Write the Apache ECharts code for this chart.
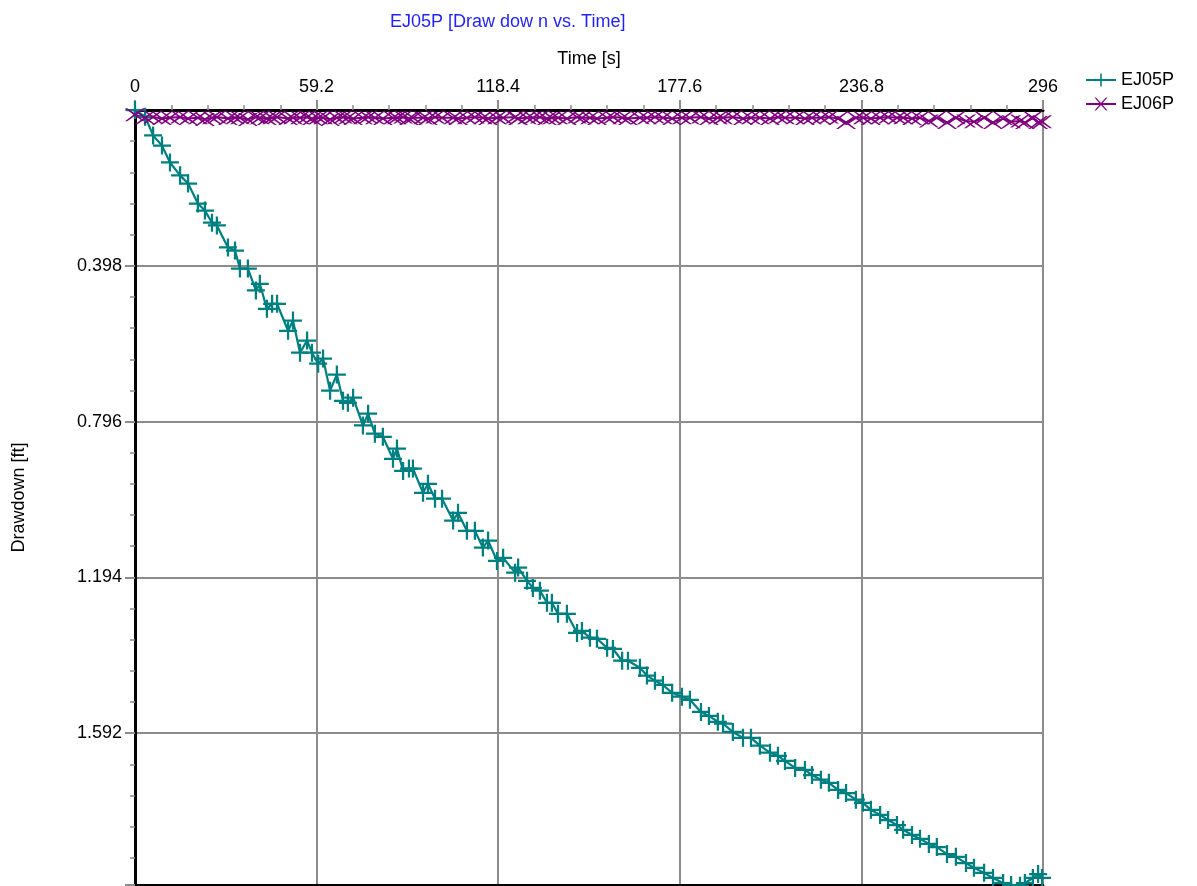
<!DOCTYPE html>
<html>
<head>
<meta charset="utf-8">
<script src="https://cdn.jsdelivr.net/npm/echarts@6/dist/echarts.min.js"></script>
<style>
html,body{margin:0;padding:0;background:#fff;}
#chart{width:1197px;height:886px;}
</style>
</head>
<body>
<div id="chart"></div>
<script>
// Time [s]
const timeS = [
  0, 3.3, 5.9, 8.8, 11.4, 14.7, 17.3, 20.5, 22.8, 25.1,
  26.7, 30.3, 32.6, 34.2, 36.8, 39.4, 40.7, 43.0, 44.7, 46.3,
  49.9, 51.5, 53.8, 56.1, 57.7, 59.7, 61.3, 63.6, 65.8, 67.8,
  69.4, 71.1, 74.3, 76.0, 78.2, 80.8, 84.1, 85.4, 87.4, 89.3,
  90.6, 93.9, 95.5, 97.8, 100.1, 103.7, 105.3, 108.2, 110.8, 113.4,
  115.1, 118.0, 120.0, 123.9, 124.9, 127.8, 129.7, 132.0, 134.3, 135.9,
  137.9, 140.8, 144.1, 145.7, 148.3, 150.6, 153.9, 155.8, 158.8, 160.7,
  164.6, 166.9, 169.5, 172.1, 175.1, 178.3, 180.9, 184.5, 187.1, 190.0,
  191.7, 194.9, 198.2, 200.8, 203.7, 207.0, 209.6, 211.9, 215.2, 218.4,
  220.7, 223.6, 226.2, 229.2, 231.8, 235.0, 237.3, 239.9, 242.9, 245.5,
  248.4, 250.4, 253.3, 255.9, 258.8, 261.4, 264.7, 267.6, 270.9, 273.5,
  276.8, 279.7, 283.0, 285.6, 288.5, 290.1, 292.7, 294.4, 295.7
];
// Drawdown [ft] EJ05P
const ej05p = [
  0.000, 0.017, 0.065, 0.091, 0.134, 0.167, 0.188, 0.239, 0.257, 0.288,
  0.295, 0.351, 0.359, 0.405, 0.405, 0.461, 0.444, 0.508, 0.495, 0.495,
  0.564, 0.538, 0.620, 0.589, 0.620, 0.648, 0.635, 0.717, 0.676, 0.743,
  0.748, 0.735, 0.806, 0.776, 0.827, 0.835, 0.891, 0.865, 0.922, 0.916,
  0.916, 0.978, 0.955, 0.993, 0.993, 1.049, 1.029, 1.075, 1.075, 1.118,
  1.100, 1.152, 1.144, 1.182, 1.169, 1.203, 1.221, 1.228, 1.259, 1.259,
  1.287, 1.287, 1.336, 1.331, 1.348, 1.351, 1.374, 1.377, 1.407, 1.407,
  1.425, 1.445, 1.458, 1.469, 1.489, 1.499, 1.507, 1.538, 1.548, 1.563,
  1.568, 1.589, 1.604, 1.604, 1.624, 1.642, 1.650, 1.663, 1.681, 1.686,
  1.699, 1.711, 1.719, 1.737, 1.745, 1.762, 1.770, 1.788, 1.801, 1.814,
  1.827, 1.839, 1.852, 1.862, 1.875, 1.883, 1.901, 1.908, 1.924, 1.936,
  1.949, 1.962, 1.975, 1.980, 1.982, 1.975, 1.962, 1.952, 1.962
];
// Drawdown [ft] EJ06P
const ej06p = [
  0.012, 0.020, 0.018, 0.022, 0.020, 0.018, 0.022, 0.020, 0.024, 0.020,
  0.018, 0.022, 0.020, 0.020, 0.024, 0.018, 0.020, 0.022, 0.020, 0.018,
  0.022, 0.020, 0.020, 0.018, 0.022, 0.020, 0.020, 0.024, 0.020, 0.018,
  0.020, 0.022, 0.020, 0.018, 0.020, 0.022, 0.020, 0.020, 0.018, 0.022,
  0.020, 0.020, 0.022, 0.018, 0.020, 0.020, 0.022, 0.020, 0.018, 0.020,
  0.022, 0.020, 0.020, 0.018, 0.022, 0.020, 0.020, 0.018, 0.022, 0.020,
  0.020, 0.022, 0.018, 0.020, 0.020, 0.022, 0.020, 0.018, 0.020, 0.022,
  0.020, 0.020, 0.018, 0.020, 0.022, 0.020, 0.020, 0.018, 0.022, 0.020,
  0.020, 0.018, 0.022, 0.020, 0.020, 0.022, 0.018, 0.020, 0.020, 0.022,
  0.020, 0.020, 0.018, 0.022, 0.032, 0.020, 0.020, 0.022, 0.020, 0.018,
  0.020, 0.020, 0.022, 0.020, 0.028, 0.020, 0.032, 0.020, 0.028, 0.030,
  0.020, 0.032, 0.022, 0.030, 0.028, 0.032, 0.020, 0.032, 0.030
];
const seriesNames = ['EJ05P', 'EJ06P'];
const titleText = 'EJ05P [Draw dow n vs. Time]';
const xName = 'Time [s]';
const yName = 'Drawdown [ft]';

const FONT = '"Liberation Sans", Arial, sans-serif';
const FS = 18;
const GRID_GRAY = '#8c8c8c';
const Y_MAX = 1.98;
const plusPath = 'path://M-1,-8 H1 V-1 H8 V1 H1 V8 H-1 V1 H-8 V-1 H-1 Z';
const crossPath = 'path://M-9,-6 L-7,-6 L0,-1 L7,-6 L9,-6 L1.4,0 L9,6 L7,6 L0,1 L-7,6 L-9,6 L-1.4,0 Z';

const d05 = timeS.map((t, i) => [t, ej05p[i]]);
const d06 = timeS.map((t, i) => [t, ej06p[i]]);

const chart = echarts.init(document.getElementById('chart'), null, {renderer: 'canvas'});
chart.setOption({
  animation: false,
  backgroundColor: '#ffffff',
  textStyle: {fontFamily: FONT},
  title: {
    text: titleText,
    left: 385, top: 8,
    textStyle: {color: '#1f1fff', fontSize: FS, fontWeight: 'normal', fontFamily: FONT}
  },
  legend: {
    data: seriesNames,
    orient: 'vertical',
    left: 1080, top: 66,
    itemWidth: 30, itemHeight: 16, itemGap: 6,
    textStyle: {fontSize: FS, color: '#000', fontFamily: FONT}
  },
  grid: {left: 135, top: 110, width: 908, height: 775, containLabel: false, outerBoundsMode: 'none'},
  xAxis: [{
    type: 'value', position: 'top', min: 0, max: 296, interval: 59.2,
    name: xName, nameLocation: 'middle', nameGap: 42,
    nameTextStyle: {fontSize: FS, color: '#000', fontFamily: FONT},
    axisLine: {show: true, onZero: false, lineStyle: {color: '#000', width: 3}},
    axisTick: {show: true, length: 10, lineStyle: {color: GRID_GRAY, width: 2}},
    minorTick: {show: true, splitNumber: 5, length: 5, lineStyle: {color: GRID_GRAY, width: 1.5}},
    splitLine: {show: true, lineStyle: {color: GRID_GRAY, width: 2}},
    axisLabel: {fontSize: FS, color: '#000', margin: 14, fontFamily: FONT,
      formatter: v => String(Number(v.toFixed(1)))}
  }, {
    type: 'value', position: 'bottom', min: 0, max: 296,
    axisLine: {show: true, onZero: false, lineStyle: {color: '#000', width: 3}},
    axisTick: {show: false}, axisLabel: {show: false}, splitLine: {show: false}
  }],
  yAxis: [{
    type: 'value', inverse: true, min: 0, max: Y_MAX, interval: 0.398,
    name: yName, nameLocation: 'middle', nameGap: 107,
    nameTextStyle: {fontSize: FS, color: '#000', fontFamily: FONT},
    axisLine: {show: true, onZero: false, lineStyle: {color: '#000', width: 3}},
    axisTick: {show: true, length: 10, lineStyle: {color: GRID_GRAY, width: 2}},
    minorTick: {show: true, splitNumber: 5, length: 5, lineStyle: {color: GRID_GRAY, width: 1.5}},
    splitLine: {show: true, lineStyle: {color: GRID_GRAY, width: 2}},
    axisLabel: {fontSize: FS, color: '#000', margin: 13, fontFamily: FONT,
      formatter: v => ((v === 0 || v === Y_MAX) ? '' : String(Number(v.toFixed(3))))}
  }],
  series: [{
    name: seriesNames[0], type: 'line', data: d05, xAxisIndex: 0, yAxisIndex: 0,
    symbol: plusPath, symbolSize: 18, showAllSymbol: true, clip: false,
    lineStyle: {color: '#008080', width: 2.2},
    itemStyle: {color: '#008080'}
  }, {
    name: seriesNames[1], type: 'line', data: d06, xAxisIndex: 0, yAxisIndex: 0,
    symbol: crossPath, symbolSize: [20, 13], showAllSymbol: true, clip: false,
    lineStyle: {color: '#800080', width: 2},
    itemStyle: {color: '#800080'}
  }]
});
</script>
</body>
</html>
